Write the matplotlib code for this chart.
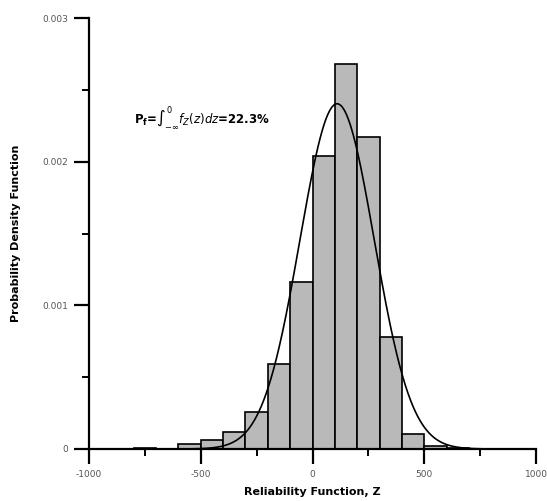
import numpy as np
import matplotlib
matplotlib.use("Agg")
import matplotlib.pyplot as plt
from matplotlib.ticker import MultipleLocator

# histogram of reliability function Z (bin width 100)
bin_left = [-800, -700, -600, -500, -400, -300, -200, -100, 0, 100, 200, 300, 400, 500, 600]
density = [0.00001, 0.0, 0.000035, 0.00006, 0.000115, 0.00026, 0.00059, 0.00116,
           0.00204, 0.00268, 0.00217, 0.00078, 0.000105, 0.00002, 0.00001]
bin_width = 100

# fitted normal curve
fit_mean = 110.0
fit_std = 166.0

fig = plt.figure(figsize=(5.47, 5.01), dpi=100)
ax = fig.add_axes([0.1627, 0.1038, 0.8173, 0.8602])

ax.bar(bin_left, density, width=bin_width, align='edge',
       color='#b9b9b9', edgecolor='black', linewidth=1.2, zorder=2)

z = np.linspace(-700, 800, 600)
pdf = np.exp(-0.5 * ((z - fit_mean) / fit_std) ** 2) / (fit_std * np.sqrt(2 * np.pi))
ax.plot(z, pdf, color='black', linewidth=1.2, zorder=3)

ax.set_xlim(-1000, 1000)
ax.set_ylim(0, 0.003)
ax.spines['top'].set_visible(False)
ax.spines['right'].set_visible(False)
ax.spines['left'].set_linewidth(1.6)
ax.spines['bottom'].set_linewidth(1.6)
ax.spines['left'].set_zorder(4)
ax.spines['bottom'].set_zorder(4)

ax.set_xticks([-1000, -500, 0, 500, 1000])
ax.set_xticklabels(['-1000', '-500', '0', '500', '1000'])
ax.set_yticks([0, 0.001, 0.002, 0.003])
ax.set_yticklabels(['0', '0.001', '0.002', '0.003'])
ax.xaxis.set_minor_locator(MultipleLocator(250))
ax.yaxis.set_minor_locator(MultipleLocator(0.0005))
ax.tick_params(which='major', length=11, width=1.6, labelsize=6.5,
               labelcolor='#555555', pad=4)
ax.tick_params(which='minor', length=5, width=1.4)

ax.set_xlabel('Reliability Function, Z', fontsize=8, fontweight='bold', labelpad=6)
ax.set_ylabel('Probability Density Function', fontsize=8, fontweight='bold', labelpad=15)

ax.text(-800, 0.00231, r'$\mathbf{P_f}$=$\int_{-\infty}^{0} f_Z(z)dz$=22.3%',
        fontsize=8.5, fontweight='bold', va='center', ha='left')

fig.savefig('out.png', dpi=100)
